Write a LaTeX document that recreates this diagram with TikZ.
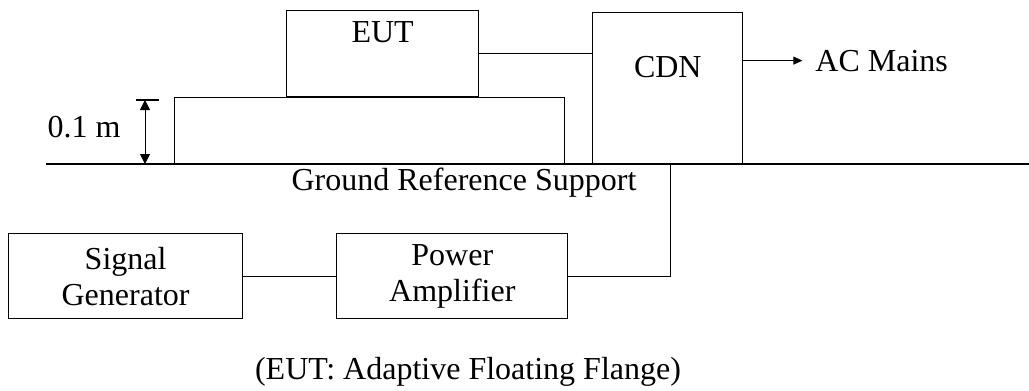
\documentclass[tikz,border=0pt]{standalone}
\usepackage{fontspec}
\setmainfont{Liberation Serif}
\usetikzlibrary{positioning, arrows.meta}

\begin{document}
\begin{tikzpicture}[x=0.5pt, y=-0.5pt, node distance=10pt,
  font=\fontsize{16}{18}\selectfont,
  blk/.style={draw, line width=0.6pt, align=center},
  wire/.style={line width=0.6pt},
  tip/.style={->, >={Triangle[length=4.5pt, width=4pt]}, line width=0.4pt},
  dimline/.style={<->, >={Triangle[length=5pt, width=5pt]}, line width=0.4pt}]
  \useasboundingbox (0,0) rectangle (1029,391);

  \node[blk, anchor=north west, minimum width=195pt, minimum height=33.5pt]     (table)  at (174,97) {};
  \node[blk, minimum width=96pt, minimum height=43pt, text depth=21pt, above right=0pt and 56pt of table.north west]     (eut)  {EUT};
  \node[blk, minimum width=75pt, minimum height=76pt, text depth=22pt, above right=0pt and 13.5pt of table.south east]     (cdn)  {CDN};
  \node[right=32.5pt of cdn.east, yshift=14pt]     (mains)  {AC Mains};
  \node[blk, anchor=north west, minimum width=117pt, minimum height=42.5pt]     (sg)  at (8,233) {Signal\\Generator};
  \node[blk, minimum width=115.5pt, minimum height=42.5pt, right=46.5pt of sg]     (pa)  {Power\\Amplifier};
  \node     (ground)  at (464,183) {Ground Reference Support};
  \node     (height)  at (84,127) {0.1 m};
  \node     (caption)  at (468,372) {(EUT: Adaptive Floating Flange)};
  \coordinate (gl) at (46,164);
  \coordinate (gr) at (1029,164);
  \coordinate (dimtop) at (145,100);
  \coordinate (dimbot) at (145,164);

  \draw[line width=1pt] (gl) -- (gr);
  \draw[dimline] (dimtop) -- (dimbot);
  \draw[line width=0.6pt] ([xshift=-4.5pt]dimtop) -- ([xshift=7pt]dimtop);
  \draw[wire] (eut.east) -- (eut.east -| cdn.west);
  \draw[tip, shorten >=3pt] (cdn.east |- mains) -- (mains);
  \draw[wire] (sg) -- (pa);
  \draw[wire] (pa.east) -| ([xshift=1.5pt]cdn.south);
\end{tikzpicture}
\end{document}
